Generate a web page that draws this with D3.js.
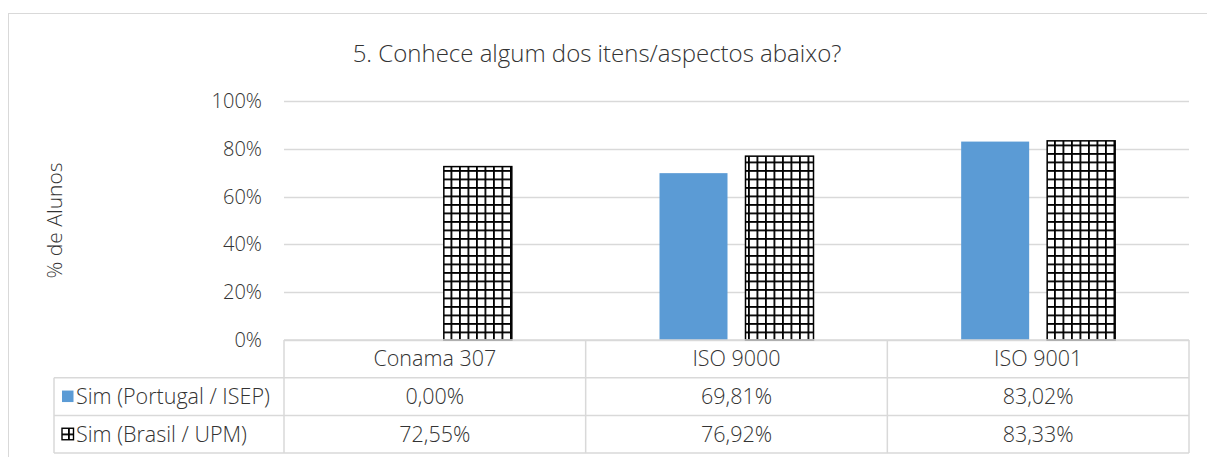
<!DOCTYPE html>
<html>
<head>
<meta charset="utf-8">
<script src="https://cdn.jsdelivr.net/npm/d3@7"></script>
<style>
  body { margin: 0; background: #fff; }
  svg text { font-family: "Open Sans", sans-serif; font-weight: 300; fill: #333; }
</style>
</head>
<body>
<div id="chart"></div>
<script>
// data
var categories = ["Conama 307", "ISO 9000", "ISO 9001"];
var seriesNames = ["Sim (Portugal / ISEP)", "Sim (Brasil / UPM)"];
var portugal = [0.0, 69.81, 83.02];
var brasil = [72.55, 76.92, 83.33];
var yTicks = [0, 20, 40, 60, 80, 100];

var W = 1207, H = 457;
var plot = { left: 284, right: 1189, top: 101, bottom: 340 };
var rowH = 37.7;

var svg = d3.select('#chart').append('svg')
  .attr('width', W).attr('height', H);

// grid pattern for the Brasil series
var defs = svg.append('defs');
var pat = defs.append('pattern')
  .attr('id', 'grid').attr('patternUnits', 'userSpaceOnUse')
  .attr('width', 8.5).attr('height', 8.5);
pat.append('rect').attr('width', 8.5).attr('height', 8.5).attr('fill', '#fff');
pat.append('rect').attr('width', 1.8).attr('height', 8.5).attr('fill', '#000');
pat.append('rect').attr('width', 8.5).attr('height', 1.8).attr('fill', '#000');

// chart border
svg.append('rect')
  .attr('x', 8.5).attr('y', 13.5).attr('width', W + 10).attr('height', H + 10)
  .attr('fill', 'none').attr('stroke', '#d9d9d9');

var x = d3.scaleBand().domain(categories)
  .range([plot.left, plot.right]);
var y = d3.scaleLinear().domain([0, 100]).range([plot.bottom, plot.top]);

// gridlines
svg.append('g').selectAll('line').data(yTicks).enter().append('line')
  .attr('x1', plot.left).attr('x2', plot.right)
  .attr('y1', function(d) { return Math.round(y(d)) + 0.5; })
  .attr('y2', function(d) { return Math.round(y(d)) + 0.5; })
  .attr('stroke', '#d9d9d9').attr('stroke-width', 1.3);

// y tick labels
svg.append('g').selectAll('text').data(yTicks).enter().append('text')
  .attr('x', 262).attr('y', function(d) { return y(d); })
  .attr('dy', '0.35em').attr('text-anchor', 'end')
  .style('font-size', '20px')
  .text(function(d) { return d + '%'; });

// y axis title
svg.append('text')
  .attr('transform', 'translate(62,' + (plot.top + plot.bottom) / 2 + ') rotate(-90)')
  .attr('text-anchor', 'middle')
  .style('font-size', '21px')
  .text('% de Alunos');

// title
svg.append('text')
  .attr('x', 597).attr('y', 62).attr('text-anchor', 'middle')
  .style('font-size', '24px')
  .text('5. Conhece algum dos itens/aspectos abaixo?');

// bars
var barW = 68, gap = 18;
var groups = svg.append('g').selectAll('g').data(categories).enter().append('g');
groups.append('rect')
  .attr('x', function(d) { return x(d) + x.bandwidth() / 2 - gap / 2 - barW; })
  .attr('y', function(d, i) { return y(portugal[i]); })
  .attr('width', barW)
  .attr('height', function(d, i) { return y(0) - y(portugal[i]); })
  .attr('fill', '#5b9bd5');
groups.append('rect')
  .attr('x', function(d) { return x(d) + x.bandwidth() / 2 + gap / 2; })
  .attr('y', function(d, i) { return y(brasil[i]); })
  .attr('width', barW)
  .attr('height', function(d, i) { return y(0) - y(brasil[i]); })
  .attr('fill', 'url(#grid)').attr('stroke', '#000').attr('stroke-width', 1.5);

// data table
var table = svg.append('g').attr('stroke', '#d9d9d9').attr('stroke-width', 1.5).attr('fill', 'none');
var tLeft = 54, tTop = plot.bottom;
// horizontal lines
[0, 1, 2, 3].forEach(function(r) {
  table.append('line')
    .attr('x1', r === 0 ? plot.left : tLeft).attr('x2', plot.right)
    .attr('y1', tTop + r * rowH).attr('y2', tTop + r * rowH);
});
// vertical lines
table.append('line').attr('x1', tLeft).attr('x2', tLeft)
  .attr('y1', tTop + rowH).attr('y2', tTop + 3 * rowH);
categories.forEach(function(c) {
  table.append('line').attr('x1', x(c)).attr('x2', x(c))
    .attr('y1', tTop).attr('y2', tTop + 3 * rowH);
});
table.append('line').attr('x1', plot.right).attr('x2', plot.right)
  .attr('y1', tTop).attr('y2', tTop + 3 * rowH);

var fmt = function(v) { return v.toFixed(2).replace('.', ',') + '%'; };

svg.append('g').selectAll('text').data(categories).enter().append('text')
  .attr('x', function(d) { return x(d) + x.bandwidth() / 2; })
  .attr('y', tTop + rowH / 2).attr('dy', '0.35em').attr('text-anchor', 'middle')
  .style('font-size', '21.5px')
  .text(function(d) { return d; });

[portugal, brasil].forEach(function(vals, r) {
  var cy = tTop + (r + 1.5) * rowH;
  svg.append('g').selectAll('text').data(vals).enter().append('text')
    .attr('x', function(d, i) { return x(categories[i]) + x.bandwidth() / 2; })
    .attr('y', cy).attr('dy', '0.35em').attr('text-anchor', 'middle')
    .style('font-size', '21.5px')
    .text(fmt);
  // legend key
  svg.append('rect')
    .attr('x', 62).attr('y', cy - 6).attr('width', 11.5).attr('height', 11.5)
    .attr('fill', r === 0 ? '#5b9bd5' : 'url(#grid)')
    .attr('stroke', r === 0 ? 'none' : '#000').attr('stroke-width', 1.4);
  svg.append('text')
    .attr('x', 76).attr('y', cy).attr('dy', '0.35em')
    .style('font-size', '21.5px')
    .text(seriesNames[r]);
});
</script>
</body>
</html>
